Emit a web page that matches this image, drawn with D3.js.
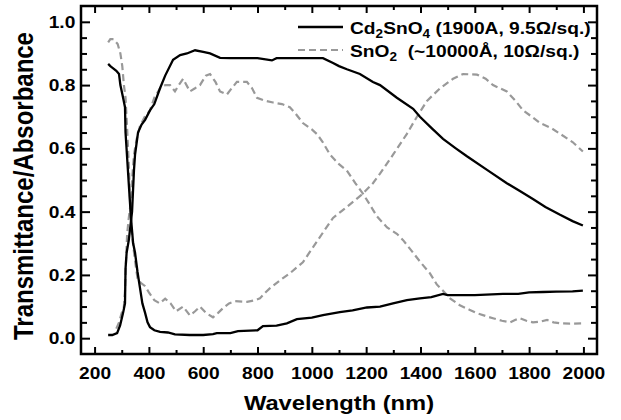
<!DOCTYPE html>
<html>
<head>
<meta charset="utf-8">
<script src="https://cdnjs.cloudflare.com/ajax/libs/d3/7.8.5/d3.min.js"></script>
<style>
body { margin: 0; background: #fff; }
svg text { font-family: "Liberation Sans", Arial, sans-serif; font-weight: bold; fill: #000; }
</style>
</head>
<body>
<svg width="621" height="420"></svg>
<script>
// Cd2SnO4 transmittance (rises in UV, falls in IR)
const cdTrans = [[250,0.01],[265,0.01],[283,0.016],[294,0.04],[305,0.08],[312,0.11],[314,0.22],[318,0.27],[326,0.31],[338,0.40],[345,0.53],[349,0.58],[360,0.65],[373,0.675],[386,0.69],[404,0.72],[420,0.74],[441,0.79],[460,0.83],[489,0.88],[515,0.895],[540,0.90],[570,0.91],[600,0.905],[625,0.90],[662,0.886],[700,0.885],[800,0.885],[853,0.878],[870,0.885],[1000,0.885],[1041,0.885],[1078,0.87],[1100,0.86],[1129,0.85],[1177,0.835],[1225,0.81],[1251,0.80],[1313,0.76],[1373,0.725],[1398,0.70],[1440,0.665],[1483,0.63],[1530,0.6],[1571,0.575],[1645,0.532],[1718,0.49],[1766,0.465],[1814,0.44],[1860,0.415],[1914,0.39],[1960,0.37],[1998,0.356]]

// Cd2SnO4 absorbance
const cdAbs = [[250,0.867],[258,0.86],[265,0.855],[280,0.845],[290,0.835],[295,0.80],[305,0.76],[312,0.73],[314,0.65],[325,0.50],[334,0.38],[342,0.30],[349,0.27],[358,0.21],[367,0.16],[376,0.11],[386,0.08],[395,0.05],[404,0.035],[420,0.025],[441,0.02],[470,0.018],[496,0.012],[550,0.01],[600,0.01],[636,0.013],[650,0.016],[700,0.016],[728,0.022],[800,0.025],[820,0.038],[870,0.04],[908,0.047],[945,0.06],[1000,0.065],[1041,0.073],[1103,0.082],[1150,0.088],[1203,0.097],[1251,0.10],[1299,0.11],[1350,0.12],[1398,0.126],[1440,0.13],[1483,0.14],[1500,0.136],[1600,0.136],[1704,0.14],[1760,0.14],[1800,0.145],[1851,0.146],[1900,0.147],[1960,0.148],[1998,0.15]]

// SnO2 transmittance
const snTrans = [[280,0.03],[290,0.05],[300,0.08],[308,0.10],[312,0.15],[316,0.25],[320,0.33],[326,0.38],[332,0.42],[338,0.50],[345,0.58],[355,0.63],[367,0.67],[385,0.70],[404,0.72],[420,0.76],[441,0.79],[460,0.80],[478,0.80],[496,0.78],[510,0.80],[526,0.82],[551,0.78],[570,0.79],[588,0.80],[610,0.83],[625,0.835],[645,0.81],[662,0.78],[687,0.77],[705,0.79],[724,0.81],[761,0.81],[780,0.79],[798,0.76],[830,0.75],[857,0.745],[890,0.74],[919,0.73],[940,0.71],[967,0.68],[1000,0.66],[1019,0.645],[1040,0.62],[1067,0.58],[1100,0.55],[1129,0.53],[1160,0.49],[1188,0.457],[1215,0.42],[1240,0.385],[1277,0.35],[1313,0.33],[1336,0.31],[1373,0.27],[1400,0.24],[1435,0.205],[1460,0.17],[1483,0.15],[1510,0.125],[1545,0.104],[1580,0.09],[1608,0.079],[1640,0.07],[1667,0.063],[1700,0.055],[1730,0.05],[1750,0.058],[1766,0.063],[1790,0.055],[1814,0.05],[1840,0.052],[1866,0.058],[1890,0.05],[1914,0.047],[1950,0.046],[1998,0.047]]

// SnO2 absorbance
const snAbs = [[250,0.935],[258,0.945],[270,0.945],[285,0.93],[295,0.9],[302,0.86],[308,0.80],[314,0.76],[320,0.66],[326,0.55],[330,0.45],[334,0.37],[340,0.31],[348,0.25],[358,0.19],[370,0.175],[385,0.165],[400,0.145],[420,0.12],[440,0.11],[460,0.125],[480,0.11],[500,0.085],[526,0.10],[551,0.072],[570,0.085],[588,0.10],[610,0.08],[636,0.066],[655,0.08],[673,0.095],[695,0.11],[717,0.117],[761,0.115],[790,0.12],[809,0.126],[830,0.145],[846,0.158],[883,0.183],[919,0.205],[967,0.24],[1004,0.287],[1041,0.334],[1078,0.38],[1129,0.415],[1188,0.457],[1225,0.49],[1251,0.52],[1299,0.58],[1350,0.646],[1387,0.70],[1424,0.75],[1472,0.79],[1520,0.82],[1557,0.835],[1608,0.833],[1640,0.82],[1667,0.80],[1718,0.78],[1750,0.75],[1778,0.72],[1810,0.70],[1840,0.68],[1880,0.665],[1914,0.646],[1960,0.62],[1998,0.59]]

const xMajor = [200,400,600,800,1000,1200,1400,1600,1800,2000]
const xMinor = [300,500,700,900,1100,1300,1500,1700,1900]
const yMajor = [0,0.2,0.4,0.6,0.8,1.0]
const yMinor = [0.05,0.1,0.15,0.25,0.3,0.35,0.45,0.5,0.55,0.65,0.7,0.75,0.85,0.9,0.95]

let plotLeft = 81, plotRight = 597, plotTop = 6, plotBottom = 354
let stretch = 'scale(1.13,1)'   // the lettering in the original is a bit wide

let svg = d3.select('svg')

let x = d3.scaleLinear().domain([150, 2050]).range([plotLeft, plotRight])
let y = d3.scaleLinear().domain([-0.05, 1.05]).range([plotBottom, plotTop])

let line = d3.line()
    .x(d => x(d[0]))
    .y(d => y(d[1]))

let plot = svg.append('g')

plot.append('path').datum(snTrans)
    .attr('d', line).attr('fill', 'none')
    .attr('stroke', '#999').attr('stroke-width', 2.2).attr('stroke-dasharray', '7,4')
plot.append('path').datum(snAbs)
    .attr('d', line).attr('fill', 'none')
    .attr('stroke', '#999').attr('stroke-width', 2.2).attr('stroke-dasharray', '7,4')
plot.append('path').datum(cdTrans)
    .attr('d', line).attr('fill', 'none')
    .attr('stroke', '#000').attr('stroke-width', 2.3)
plot.append('path').datum(cdAbs)
    .attr('d', line).attr('fill', 'none')
    .attr('stroke', '#000').attr('stroke-width', 2.3)

// axes with inward ticks on all four sides
function drawAxis(axis, tx, ty) {
    let g = svg.append('g').attr('transform', 'translate(' + tx + ',' + ty + ')').call(axis)
    g.select('.domain').remove()
    g.selectAll('line').attr('stroke', '#000').attr('stroke-width', 2)
    return g
}

let xb = drawAxis(d3.axisBottom(x).tickValues(xMajor).tickSize(-7).tickPadding(13).tickFormat(d3.format('d')), 0, plotBottom)
xb.selectAll('text').style('font-size', '17px').attr('transform', stretch)
drawAxis(d3.axisBottom(x).tickValues(xMinor).tickSize(-4).tickFormat(''), 0, plotBottom)
drawAxis(d3.axisTop(x).tickValues(xMajor).tickSize(-7).tickFormat(''), 0, plotTop)
drawAxis(d3.axisTop(x).tickValues(xMinor).tickSize(-4).tickFormat(''), 0, plotTop)

let yl = drawAxis(d3.axisLeft(y).tickValues(yMajor).tickSize(-9).tickPadding(5).tickFormat(d3.format('.1f')), plotLeft, 0)
yl.selectAll('text').style('font-size', '17px').attr('transform', stretch)
drawAxis(d3.axisLeft(y).tickValues(yMinor).tickSize(-6).tickFormat(''), plotLeft, 0)
drawAxis(d3.axisRight(y).tickValues(yMajor).tickSize(-9).tickFormat(''), plotRight, 0)
drawAxis(d3.axisRight(y).tickValues(yMinor).tickSize(-6).tickFormat(''), plotRight, 0)

svg.append('rect')
    .attr('x', plotLeft).attr('y', plotTop)
    .attr('width', plotRight - plotLeft).attr('height', plotBottom - plotTop)
    .attr('fill', 'none').attr('stroke', '#000').attr('stroke-width', 2.5)

// titles
svg.append('text')
    .attr('transform', 'translate(339,410) ' + stretch)
    .attr('text-anchor', 'middle')
    .style('font-size', '21px')
    .text('Wavelength (nm)')

svg.append('text')
    .attr('transform', 'translate(33,186) ' + stretch + ' rotate(-90)')
    .attr('text-anchor', 'middle')
    .style('font-size', '24px')
    .text('Transmittance/Absorbance')

// legend
let legend = svg.append('g')
legend.append('line')
    .attr('x1', 298).attr('x2', 343).attr('y1', 27).attr('y2', 27)
    .attr('stroke', '#000').attr('stroke-width', 2.3)
legend.append('line')
    .attr('x1', 298).attr('x2', 343).attr('y1', 50).attr('y2', 50)
    .attr('stroke', '#999').attr('stroke-width', 2.2).attr('stroke-dasharray', '7,4')

let t1 = legend.append('text').attr('transform', 'translate(350,34) ' + stretch).style('font-size', '17px')
t1.append('tspan').text('Cd')
t1.append('tspan').attr('dy', 4).style('font-size', '12px').text('2')
t1.append('tspan').attr('dy', -4).text('SnO')
t1.append('tspan').attr('dy', 4).style('font-size', '12px').text('4')
t1.append('tspan').attr('dy', -4).text(' (1900A, 9.5\u03A9/sq.)')

let t2 = legend.append('text').attr('transform', 'translate(350,57) ' + stretch).style('font-size', '17px')
t2.append('tspan').text('SnO')
t2.append('tspan').attr('dy', 4).style('font-size', '12px').text('2')
t2.append('tspan').attr('dy', -4).text('\u00A0 (~10000\u00C5, 10\u03A9/sq.)')
</script>
</body>
</html>
